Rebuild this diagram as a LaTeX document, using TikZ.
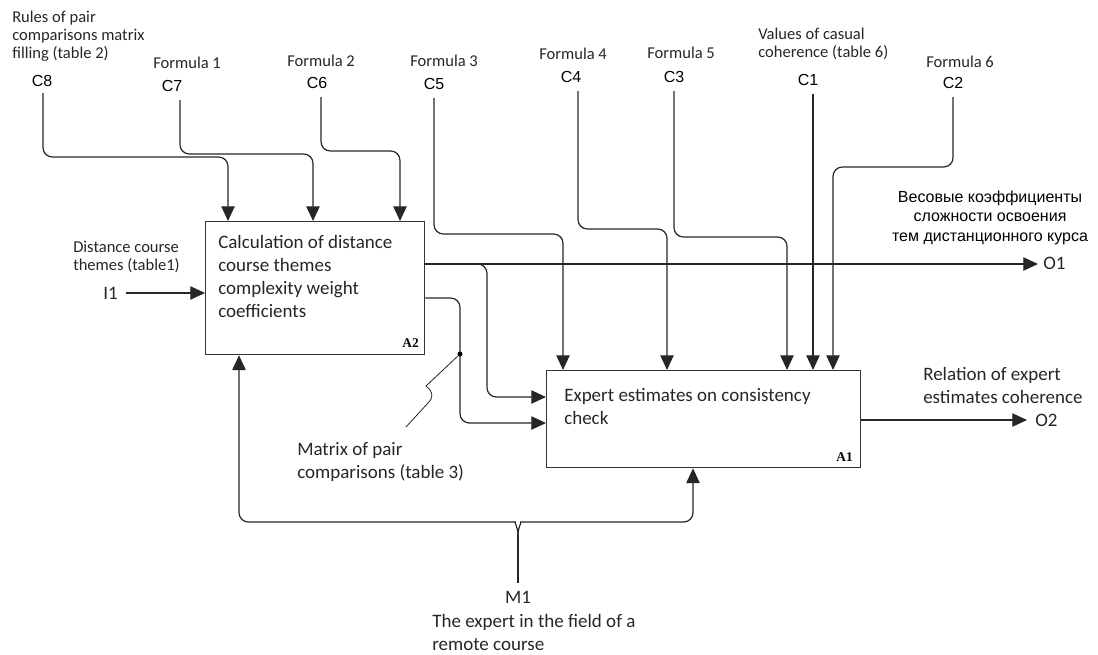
\documentclass[tikz,border=0pt]{standalone}
\usepackage{fontspec}
\setmainfont{Carlito}
\newfontfamily\arialf{Liberation Sans}
\newfontfamily\timesf{Liberation Serif}
\usetikzlibrary{arrows.meta}
\newlength\pxl
\setlength\pxl{0.75pt}
\begin{document}
\begin{tikzpicture}[x=0.75pt,y=-0.75pt,
  line/.style={draw=black!85, line width=0.9pt, rounded corners=7pt},
  arr/.style={line, -{Triangle[length=11pt,width=10pt]}},
  box/.style={draw=black!80, line width=1pt, anchor=north west, inner sep=0},
  big/.style={font=\fontsize{14.25pt}{17.25pt}\selectfont, inner sep=0, align=left, text=black!85},
  small/.style={font=\fontsize{12.4pt}{13.5pt}\selectfont, inner sep=0, align=left, text=black!85},
  cl/.style={font=\arialf\fontsize{12pt}{14pt}\selectfont, inner sep=0, anchor=base},
  ru/.style={font=\arialf\fontsize{12pt}{14.6pt}\selectfont, inner sep=0, align=center, anchor=base},
  idx/.style={font=\timesf\bfseries\fontsize{10pt}{12pt}\selectfont, inner sep=0, anchor=base east}]
\useasboundingbox (0,0) rectangle (1098,654);

% boxes
\node[box, minimum width=219\pxl, minimum height=133\pxl] (A2) at (205,221) {};
\node[box, minimum width=314\pxl, minimum height=97\pxl] (A1) at (546,370) {};
\node[big, anchor=base west] (t2) at (218,317) {Calculation of distance\\course themes\\complexity weight\\coefficients};
\node[big, anchor=base west] (t1) at (564,424) {Expert estimates on consistency\\check};
\node[idx] (a2l) at (419,347) {A2};
\node[idx] (a1l) at (853,461) {A1};

% control labels
\node[small, anchor=base west] (rules) at (12,58) {Rules of pair\\comparisons matrix\\filling (table 2)};
\node[small, anchor=base west] (f1) at (153,68) {Formula 1};
\node[small, anchor=base west] (f2) at (287,66) {Formula 2};
\node[small, anchor=base west] (f3) at (410,66) {Formula 3};
\node[small, anchor=base west] (f4) at (539,59) {Formula 4};
\node[small, anchor=base west] (f5) at (647,58) {Formula 5};
\node[small, anchor=base west] (vals) at (758,57) {Values of casual\\coherence (table 6)};
\node[small, anchor=base west] (f6) at (926,67) {Formula 6};

\node[cl] (C8) at (42,86) {C8};
\node[cl] (C7) at (172,91) {C7};
\node[cl] (C6) at (317,88) {C6};
\node[cl] (C5) at (434,89) {C5};
\node[cl] (C4) at (571,82) {C4};
\node[cl] (C3) at (674,82) {C3};
\node[cl] (C1) at (808,85) {C1};
\node[cl] (C2) at (953,88) {C2};

% other labels
\node[small, anchor=base west] (dist) at (73,270) {Distance course\\themes (table1)};
\node[big, anchor=base west] (I1) at (103,299) {I1};
\node[big, anchor=base west] (O1) at (1043,269) {O1};
\node[big, anchor=base west] (O2) at (1035,426) {O2};
\node[big, anchor=base west] (rel) at (923,403) {Relation of expert\\estimates coherence};
\node[ru] (rus) at (990,241) {Весовые коэффициенты\\сложности освоения\\тем дистанционного курса};
\node[big, anchor=base west] (mat) at (297,478) {Matrix of pair\\comparisons (table 3)};
\node[big, anchor=base] (M1) at (518,603) {M1};
\node[big, anchor=base west] (exp) at (432,650) {The expert in the field of a\\remote course};

% coordinates
\coordinate (c8s) at (43,93);
\coordinate (c7s) at (180,100);
\coordinate (c6s) at (321,97);
\coordinate (c5s) at (434,98);
\coordinate (c4s) at (578,91);
\coordinate (c3s) at (674,91);
\coordinate (c1s) at (813,94);
\coordinate (c2s) at (953,97);
\coordinate (i1s) at (126,293);
\coordinate (o1e) at (1038,264);
\coordinate (o2e) at (1027,420);
\coordinate (b1) at (477,264);
\coordinate (b1c) at (487,397);
\coordinate (o3y) at (424,298);
\coordinate (o3c) at (460,423);
\coordinate (sq) at (406,427);
\coordinate (bt) at (518,535);
\coordinate (m1s) at (518,583);

% controls
\draw[arr] (c8s) |- (228,157) -- ([xshift=23\pxl]A2.north west);
\draw[arr] (c7s) |- (313,154) -- ([xshift=108\pxl]A2.north west);
\draw[arr] (c6s) |- (400,151) -- ([xshift=195\pxl]A2.north west);
\draw[arr] (c5s) |- (563,234) -- ([xshift=17\pxl]A1.north west);
\draw[arr] (c4s) |- (667,229) -- ([xshift=121\pxl]A1.north west);
\draw[arr] (c3s) |- (787,237) -- ([xshift=241\pxl]A1.north west);
\draw[arr] (c1s) -- ([xshift=267\pxl]A1.north west);
\draw[arr] (c2s) |- (833,167) -- ([xshift=287\pxl]A1.north west);

% input / outputs
\draw[arr] (i1s) -- (A2.west |- i1s);
\draw[arr] (A2.east |- o1e) -- (o1e);
\draw[arr] (A1.east |- o2e) -- (o2e);
\draw[arr] (b1) -| (b1c) -- (A1.west |- b1c);
\draw[arr] (A2.east |- o3y) -| (o3c) -- (A1.west |- o3c);
\node[circle, fill=black, inner sep=0, minimum size=5\pxl] (dot) at (460,354) {};
\draw[black!85, line width=0.6pt] (dot) -- (426,386) .. controls (434,392) and (433,399) .. (428,403) -- (sq);

% mechanism
\draw[arr] (bt) .. controls (518,527) and (514,522) .. (506,522) -| ([xshift=34\pxl]A2.south west);
\draw[arr] (bt) .. controls (518,527) and (522,522) .. (530,522) -| ([xshift=147\pxl]A1.south west);
\draw[line] (m1s) -- (bt);
\end{tikzpicture}
\end{document}
